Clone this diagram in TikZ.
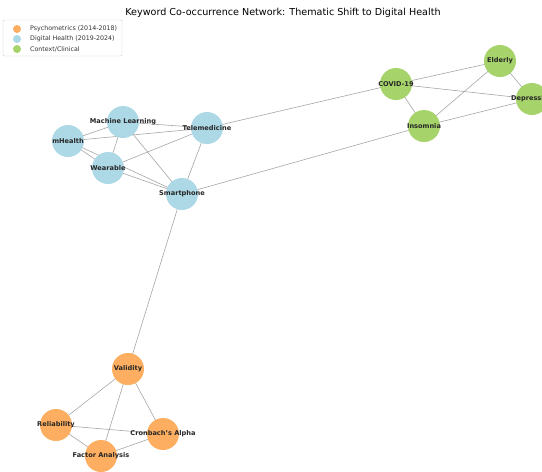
\documentclass[tikz,border=0pt]{standalone}
\usepackage{fontspec}
\setmainfont{DejaVu Sans}
\usetikzlibrary{backgrounds}
\definecolor{psycol}{HTML}{FDAE61}
\definecolor{digcol}{HTML}{ADD8E6}
\definecolor{clincol}{HTML}{A6D46A}

\begin{document}
\begin{tikzpicture}
[x=1pt,y=-1pt,%
  kw/.style={shape=circle,minimum size=32pt,inner sep=0pt},%
  psy/.style={kw,fill=psycol},%
  dig/.style={kw,fill=digcol},%
  clin/.style={kw,fill=clincol},%
  every label/.style={font=\fontsize{6.6}{7.5}\selectfont\bfseries,text=black!85,inner sep=0pt},%
  link/.style={draw=black!35,line width=0.6pt},%
  legdot/.style={shape=circle,minimum size=8pt,inner sep=0pt},%
  legtext/.style={font=\fontsize{6.3}{7}\selectfont,text=black!80,anchor=west,inner sep=0pt}]
\useasboundingbox (0,0) rectangle (542,472);
\clip (0,0) rectangle (542,472);
\node (title) at (283,13) {\fontsize{9.6}{11}\selectfont Keyword Co-occurrence Network: Thematic Shift to Digital Health};
% legend
\draw[draw=black!20,fill=white,rounded corners=1pt] (3,20) rectangle (122,56);
\node[legdot,fill=psycol] (l1) at (17,29) {};
\node[legdot,fill=digcol] (l2) at (17,39) {};
\node[legdot,fill=clincol] (l3) at (17,49) {};
\node[legtext] (t1) at (30,29) {Psychometrics (2014-2018)};
\node[legtext] (t2) at (30,39) {Digital Health (2019-2024)};
\node[legtext] (t3) at (30,49) {Context/Clinical};
% digital health
\node[dig,label=center:mHealth] (mh) at (68,141) {};
\node[dig,label=center:Machine Learning] (ml) at (123,122) {};
\node[dig,label=center:Telemedicine] (tm) at (207,128) {};
\node[dig,label=center:Wearable] (wr) at (108,168) {};
\node[dig,label=center:Smartphone] (sp) at (182,194) {};
% context / clinical
\node[clin,label=center:COVID-19] (cv) at (396,84) {};
\node[clin,label=center:Elderly] (el) at (500,61) {};
\node[clin,label=center:Depression] (dp) at (532,99) {};
\node[clin,label=center:Insomnia] (in) at (424,126) {};
% psychometrics
\node[psy,label=center:Validity] (va) at (128,369) {};
\node[psy,label=center:Reliability] (re) at (56,425) {};
\node[psy,label=center:Cronbach's Alpha] (ca) at (163,434) {};
\node[psy,label=center:Factor Analysis] (fa) at (101,456) {};
\begin{pgfonlayer}{background}
\foreach \a/\b in {mh/ml,mh/tm,mh/wr,mh/sp,ml/tm,ml/wr,ml/sp,tm/wr,tm/sp,wr/sp,
  cv/el,cv/dp,cv/in,in/el,in/dp,el/dp,
  va/re,va/fa,va/ca,re/ca,re/fa,fa/ca,
  tm/cv,sp/in,sp/va}
  \draw[link] (\a.center) -- (\b.center);
\end{pgfonlayer}
\end{tikzpicture}
\end{document}
